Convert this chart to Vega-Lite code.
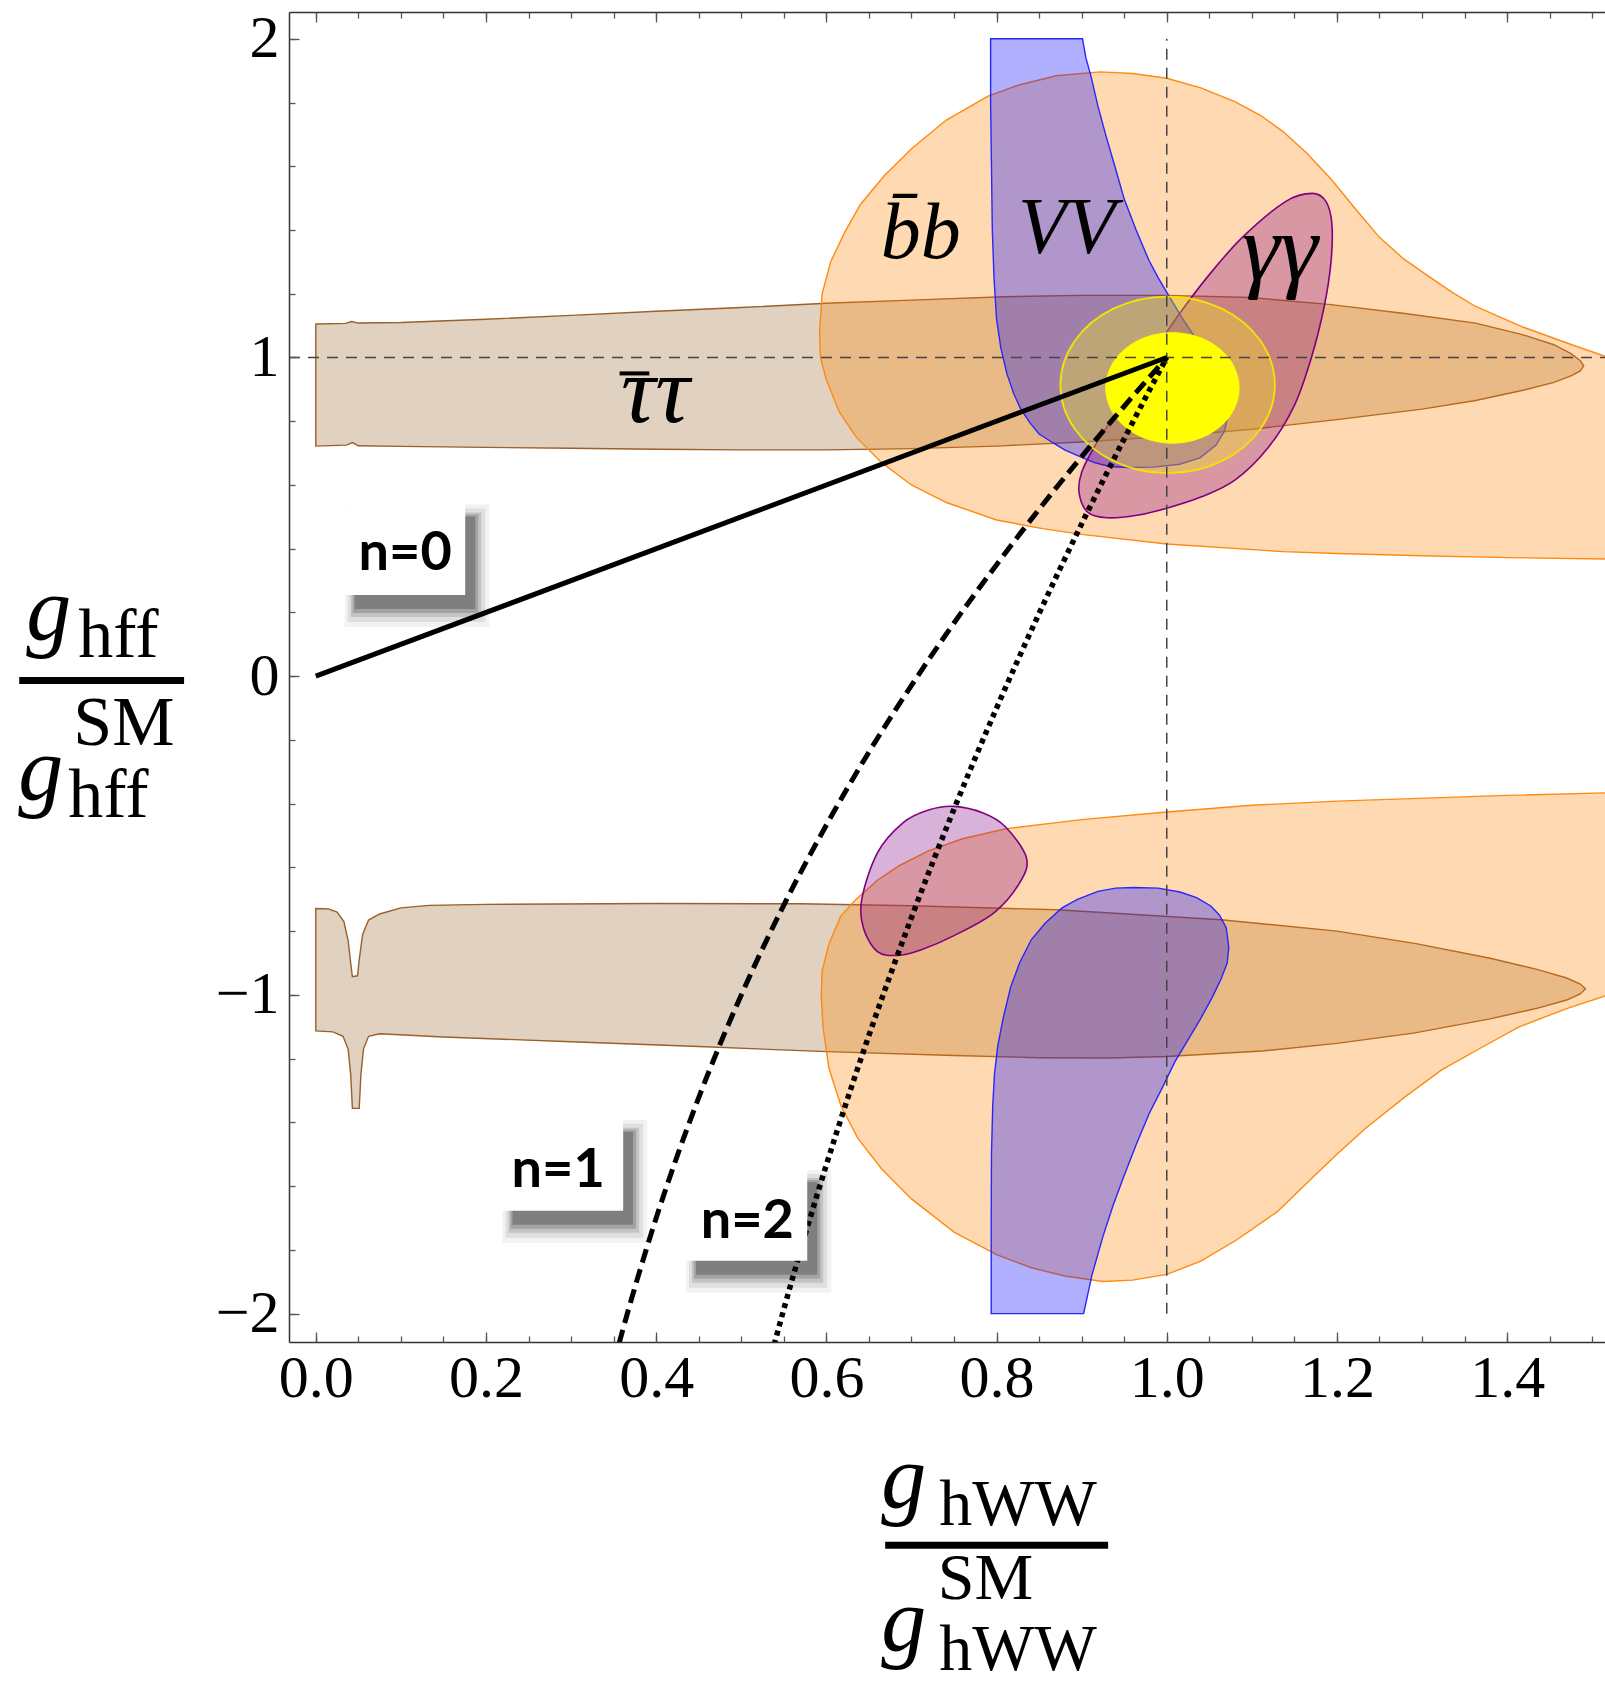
{
"$schema":"https://vega.github.io/schema/vega-lite/v6.json",
"width":1316,"height":1330,
"autosize":{"type":"none"},
"padding":{"left":289,"top":12,"right":0,"bottom":342},
"background":"white",
"config":{"view":{"stroke":null}},
"resolve":{"axis":{"x":"independent","y":"independent"}},
"datasets":{
"shp":[
{"s":"tu","i":0,"x":0,"y":1.105},{"s":"tu","i":1,"x":0.035,"y":1.107},{"s":"tu","i":2,"x":0.042,"y":1.113},{"s":"tu","i":3,"x":0.05,"y":1.108},{"s":"tu","i":4,"x":0.1,"y":1.11},{"s":"tu","i":5,"x":0.2,"y":1.12},{"s":"tu","i":6,"x":0.3,"y":1.132},{"s":"tu","i":7,"x":0.4,"y":1.145},{"s":"tu","i":8,"x":0.5,"y":1.157},{"s":"tu","i":9,"x":0.6,"y":1.17},{"s":"tu","i":10,"x":0.7,"y":1.18},{"s":"tu","i":11,"x":0.8,"y":1.19},{"s":"tu","i":12,"x":0.9,"y":1.195},{"s":"tu","i":13,"x":1.0,"y":1.195},{"s":"tu","i":14,"x":1.1,"y":1.188},{"s":"tu","i":15,"x":1.193,"y":1.166},{"s":"tu","i":16,"x":1.28,"y":1.138},{"s":"tu","i":17,"x":1.363,"y":1.108},{"s":"tu","i":18,"x":1.42,"y":1.07},{"s":"tu","i":19,"x":1.455,"y":1.04},{"s":"tu","i":20,"x":1.475,"y":1.012},{"s":"tu","i":21,"x":1.486,"y":0.99},{"s":"tu","i":22,"x":1.49,"y":0.974},{"s":"tu","i":23,"x":1.486,"y":0.958},{"s":"tu","i":24,"x":1.475,"y":0.942},{"s":"tu","i":25,"x":1.455,"y":0.922},{"s":"tu","i":26,"x":1.42,"y":0.898},{"s":"tu","i":27,"x":1.363,"y":0.865},{"s":"tu","i":28,"x":1.3,"y":0.838},{"s":"tu","i":29,"x":1.2,"y":0.805},{"s":"tu","i":30,"x":1.1,"y":0.775},{"s":"tu","i":31,"x":1.0,"y":0.752},{"s":"tu","i":32,"x":0.9,"y":0.735},{"s":"tu","i":33,"x":0.8,"y":0.722},{"s":"tu","i":34,"x":0.7,"y":0.714},{"s":"tu","i":35,"x":0.6,"y":0.71},{"s":"tu","i":36,"x":0.5,"y":0.71},{"s":"tu","i":37,"x":0.4,"y":0.712},{"s":"tu","i":38,"x":0.3,"y":0.715},{"s":"tu","i":39,"x":0.2,"y":0.718},{"s":"tu","i":40,"x":0.1,"y":0.721},{"s":"tu","i":41,"x":0.05,"y":0.723},{"s":"tu","i":42,"x":0.043,"y":0.733},{"s":"tu","i":43,"x":0.036,"y":0.725},{"s":"tu","i":44,"x":0,"y":0.722},
{"s":"tl","i":0,"x":0,"y":-0.729},{"s":"tl","i":1,"x":0.015,"y":-0.73},{"s":"tl","i":2,"x":0.025,"y":-0.74},{"s":"tl","i":3,"x":0.033,"y":-0.77},{"s":"tl","i":4,"x":0.038,"y":-0.83},{"s":"tl","i":5,"x":0.041,"y":-0.9},{"s":"tl","i":6,"x":0.043,"y":-0.943},{"s":"tl","i":7,"x":0.049,"y":-0.94},{"s":"tl","i":8,"x":0.051,"y":-0.89},{"s":"tl","i":9,"x":0.055,"y":-0.81},{"s":"tl","i":10,"x":0.062,"y":-0.765},{"s":"tl","i":11,"x":0.075,"y":-0.746},{"s":"tl","i":12,"x":0.1,"y":-0.727},{"s":"tl","i":13,"x":0.133,"y":-0.719},{"s":"tl","i":14,"x":0.2,"y":-0.716},{"s":"tl","i":15,"x":0.4,"y":-0.713},{"s":"tl","i":16,"x":0.569,"y":-0.714},{"s":"tl","i":17,"x":0.7,"y":-0.72},{"s":"tl","i":18,"x":0.871,"y":-0.733},{"s":"tl","i":19,"x":1.064,"y":-0.764},{"s":"tl","i":20,"x":1.2,"y":-0.8},{"s":"tl","i":21,"x":1.293,"y":-0.839},{"s":"tl","i":22,"x":1.38,"y":-0.885},{"s":"tl","i":23,"x":1.435,"y":-0.92},{"s":"tl","i":24,"x":1.47,"y":-0.947},{"s":"tl","i":25,"x":1.486,"y":-0.966},{"s":"tl","i":26,"x":1.492,"y":-0.981},{"s":"tl","i":27,"x":1.486,"y":-0.997},{"s":"tl","i":28,"x":1.47,"y":-1.016},{"s":"tl","i":29,"x":1.435,"y":-1.042},{"s":"tl","i":30,"x":1.38,"y":-1.075},{"s":"tl","i":31,"x":1.29,"y":-1.12},{"s":"tl","i":32,"x":1.2,"y":-1.152},{"s":"tl","i":33,"x":1.112,"y":-1.176},{"s":"tl","i":34,"x":1.0,"y":-1.193},{"s":"tl","i":35,"x":0.931,"y":-1.198},{"s":"tl","i":36,"x":0.85,"y":-1.197},{"s":"tl","i":37,"x":0.75,"y":-1.19},{"s":"tl","i":38,"x":0.6,"y":-1.178},{"s":"tl","i":39,"x":0.45,"y":-1.162},{"s":"tl","i":40,"x":0.3,"y":-1.147},{"s":"tl","i":41,"x":0.15,"y":-1.132},{"s":"tl","i":42,"x":0.075,"y":-1.122},{"s":"tl","i":43,"x":0.062,"y":-1.13},{"s":"tl","i":44,"x":0.056,"y":-1.17},{"s":"tl","i":45,"x":0.053,"y":-1.25},{"s":"tl","i":46,"x":0.051,"y":-1.356},{"s":"tl","i":47,"x":0.043,"y":-1.356},{"s":"tl","i":48,"x":0.041,"y":-1.25},{"s":"tl","i":49,"x":0.038,"y":-1.17},{"s":"tl","i":50,"x":0.032,"y":-1.13},{"s":"tl","i":51,"x":0.02,"y":-1.116},{"s":"tl","i":52,"x":0,"y":-1.113},
{"s":"bu","i":0,"x":0.6,"y":0.93},{"s":"bu","i":1,"x":0.593,"y":1.0},{"s":"bu","i":2,"x":0.592,"y":1.08},{"s":"bu","i":3,"x":0.595,"y":1.2},{"s":"bu","i":4,"x":0.605,"y":1.3},{"s":"bu","i":5,"x":0.621,"y":1.39},{"s":"bu","i":6,"x":0.64,"y":1.48},{"s":"bu","i":7,"x":0.668,"y":1.57},{"s":"bu","i":8,"x":0.7,"y":1.655},{"s":"bu","i":9,"x":0.741,"y":1.745},{"s":"bu","i":10,"x":0.79,"y":1.82},{"s":"bu","i":11,"x":0.826,"y":1.855},{"s":"bu","i":12,"x":0.87,"y":1.884},{"s":"bu","i":13,"x":0.922,"y":1.896},{"s":"bu","i":14,"x":0.96,"y":1.891},{"s":"bu","i":15,"x":1.0,"y":1.876},{"s":"bu","i":16,"x":1.04,"y":1.846},{"s":"bu","i":17,"x":1.08,"y":1.803},{"s":"bu","i":18,"x":1.11,"y":1.76},{"s":"bu","i":19,"x":1.137,"y":1.708},{"s":"bu","i":20,"x":1.165,"y":1.64},{"s":"bu","i":21,"x":1.194,"y":1.557},{"s":"bu","i":22,"x":1.222,"y":1.465},{"s":"bu","i":23,"x":1.25,"y":1.377},{"s":"bu","i":24,"x":1.278,"y":1.31},{"s":"bu","i":25,"x":1.307,"y":1.256},{"s":"bu","i":26,"x":1.335,"y":1.205},{"s":"bu","i":27,"x":1.363,"y":1.16},{"s":"bu","i":28,"x":1.42,"y":1.094},{"s":"bu","i":29,"x":1.476,"y":1.04},{"s":"bu","i":30,"x":1.53,"y":0.99},{"s":"bu","i":31,"x":1.53,"y":0.367},{"s":"bu","i":32,"x":1.4,"y":0.372},{"s":"bu","i":33,"x":1.3,"y":0.378},{"s":"bu","i":34,"x":1.2,"y":0.385},{"s":"bu","i":35,"x":1.137,"y":0.391},{"s":"bu","i":36,"x":1.0,"y":0.415},{"s":"bu","i":37,"x":0.9,"y":0.445},{"s":"bu","i":38,"x":0.854,"y":0.463},{"s":"bu","i":39,"x":0.8,"y":0.49},{"s":"bu","i":40,"x":0.741,"y":0.545},{"s":"bu","i":41,"x":0.7,"y":0.6},{"s":"bu","i":42,"x":0.665,"y":0.67},{"s":"bu","i":43,"x":0.635,"y":0.75},{"s":"bu","i":44,"x":0.615,"y":0.83},
{"s":"bl","i":0,"x":1.53,"y":-0.365},{"s":"bl","i":1,"x":1.4,"y":-0.374},{"s":"bl","i":2,"x":1.2,"y":-0.392},{"s":"bl","i":3,"x":1.1,"y":-0.405},{"s":"bl","i":4,"x":1.0,"y":-0.426},{"s":"bl","i":5,"x":0.9,"y":-0.45},{"s":"bl","i":6,"x":0.81,"y":-0.479},{"s":"bl","i":7,"x":0.76,"y":-0.51},{"s":"bl","i":8,"x":0.72,"y":-0.548},{"s":"bl","i":9,"x":0.685,"y":-0.595},{"s":"bl","i":10,"x":0.66,"y":-0.64},{"s":"bl","i":11,"x":0.635,"y":-0.7},{"s":"bl","i":12,"x":0.617,"y":-0.752},{"s":"bl","i":13,"x":0.603,"y":-0.84},{"s":"bl","i":14,"x":0.595,"y":-0.925},{"s":"bl","i":15,"x":0.594,"y":-1.0},{"s":"bl","i":16,"x":0.596,"y":-1.1},{"s":"bl","i":17,"x":0.603,"y":-1.23},{"s":"bl","i":18,"x":0.617,"y":-1.347},{"s":"bl","i":19,"x":0.637,"y":-1.45},{"s":"bl","i":20,"x":0.665,"y":-1.546},{"s":"bl","i":21,"x":0.7,"y":-1.64},{"s":"bl","i":22,"x":0.75,"y":-1.744},{"s":"bl","i":23,"x":0.8,"y":-1.815},{"s":"bl","i":24,"x":0.841,"y":-1.856},{"s":"bl","i":25,"x":0.88,"y":-1.882},{"s":"bl","i":26,"x":0.925,"y":-1.899},{"s":"bl","i":27,"x":0.96,"y":-1.895},{"s":"bl","i":28,"x":1.0,"y":-1.877},{"s":"bl","i":29,"x":1.04,"y":-1.835},{"s":"bl","i":30,"x":1.082,"y":-1.769},{"s":"bl","i":31,"x":1.13,"y":-1.68},{"s":"bl","i":32,"x":1.172,"y":-1.571},{"s":"bl","i":33,"x":1.2,"y":-1.5},{"s":"bl","i":34,"x":1.233,"y":-1.42},{"s":"bl","i":35,"x":1.28,"y":-1.32},{"s":"bl","i":36,"x":1.323,"y":-1.235},{"s":"bl","i":37,"x":1.37,"y":-1.165},{"s":"bl","i":38,"x":1.414,"y":-1.1},{"s":"bl","i":39,"x":1.47,"y":-1.043},{"s":"bl","i":40,"x":1.53,"y":-0.99},
{"s":"vu","i":0,"x":0.793,"y":2.0},{"s":"vu","i":1,"x":0.901,"y":2.0},{"s":"vu","i":2,"x":0.905,"y":1.94},{"s":"vu","i":3,"x":0.911,"y":1.882},{"s":"vu","i":4,"x":0.919,"y":1.79},{"s":"vu","i":5,"x":0.928,"y":1.701},{"s":"vu","i":6,"x":0.939,"y":1.6},{"s":"vu","i":7,"x":0.95,"y":1.497},{"s":"vu","i":8,"x":0.964,"y":1.4},{"s":"vu","i":9,"x":0.979,"y":1.305},{"s":"vu","i":10,"x":0.99,"y":1.25},{"s":"vu","i":11,"x":1.002,"y":1.196},{"s":"vu","i":12,"x":1.018,"y":1.124},{"s":"vu","i":13,"x":1.033,"y":1.064},{"s":"vu","i":14,"x":1.048,"y":1.0},{"s":"vu","i":15,"x":1.06,"y":0.94},{"s":"vu","i":16,"x":1.068,"y":0.88},{"s":"vu","i":17,"x":1.072,"y":0.82},{"s":"vu","i":18,"x":1.068,"y":0.77},{"s":"vu","i":19,"x":1.058,"y":0.725},{"s":"vu","i":20,"x":1.039,"y":0.685},{"s":"vu","i":21,"x":1.015,"y":0.665},{"s":"vu","i":22,"x":0.985,"y":0.656},{"s":"vu","i":23,"x":0.955,"y":0.655},{"s":"vu","i":24,"x":0.933,"y":0.658},{"s":"vu","i":25,"x":0.915,"y":0.67},{"s":"vu","i":26,"x":0.898,"y":0.689},{"s":"vu","i":27,"x":0.88,"y":0.71},{"s":"vu","i":28,"x":0.867,"y":0.731},{"s":"vu","i":29,"x":0.85,"y":0.76},{"s":"vu","i":30,"x":0.8395,"y":0.794},{"s":"vu","i":31,"x":0.828,"y":0.84},{"s":"vu","i":32,"x":0.82,"y":0.888},{"s":"vu","i":33,"x":0.812,"y":0.95},{"s":"vu","i":34,"x":0.805,"y":1.03},{"s":"vu","i":35,"x":0.8,"y":1.12},{"s":"vu","i":36,"x":0.797,"y":1.25},{"s":"vu","i":37,"x":0.795,"y":1.4},{"s":"vu","i":38,"x":0.794,"y":1.6},{"s":"vu","i":39,"x":0.793,"y":1.8},
{"s":"vl","i":0,"x":0.7937,"y":-2.0},{"s":"vl","i":1,"x":0.9023,"y":-2.0},{"s":"vl","i":2,"x":0.912,"y":-1.88},{"s":"vl","i":3,"x":0.9252,"y":-1.756},{"s":"vl","i":4,"x":0.937,"y":-1.66},{"s":"vl","i":5,"x":0.9493,"y":-1.571},{"s":"vl","i":6,"x":0.964,"y":-1.47},{"s":"vl","i":7,"x":0.9794,"y":-1.372},{"s":"vl","i":8,"x":0.995,"y":-1.29},{"s":"vl","i":9,"x":1.0095,"y":-1.21},{"s":"vl","i":10,"x":1.0397,"y":-1.075},{"s":"vl","i":11,"x":1.053,"y":-1.01},{"s":"vl","i":12,"x":1.0638,"y":-0.95},{"s":"vl","i":13,"x":1.071,"y":-0.9},{"s":"vl","i":14,"x":1.0729,"y":-0.851},{"s":"vl","i":15,"x":1.0699,"y":-0.789},{"s":"vl","i":16,"x":1.062,"y":-0.75},{"s":"vl","i":17,"x":1.0518,"y":-0.721},{"s":"vl","i":18,"x":1.035,"y":-0.695},{"s":"vl","i":19,"x":1.0156,"y":-0.677},{"s":"vl","i":20,"x":0.99,"y":-0.665},{"s":"vl","i":21,"x":0.9613,"y":-0.663},{"s":"vl","i":22,"x":0.94,"y":-0.665},{"s":"vl","i":23,"x":0.9191,"y":-0.675},{"s":"vl","i":24,"x":0.895,"y":-0.7},{"s":"vl","i":25,"x":0.8769,"y":-0.727},{"s":"vl","i":26,"x":0.857,"y":-0.775},{"s":"vl","i":27,"x":0.8407,"y":-0.827},{"s":"vl","i":28,"x":0.827,"y":-0.9},{"s":"vl","i":29,"x":0.8166,"y":-0.975},{"s":"vl","i":30,"x":0.808,"y":-1.07},{"s":"vl","i":31,"x":0.8014,"y":-1.16},{"s":"vl","i":32,"x":0.7975,"y":-1.25},{"s":"vl","i":33,"x":0.7955,"y":-1.347},{"s":"vl","i":34,"x":0.794,"y":-1.5},{"s":"vl","i":35,"x":0.7937,"y":-1.7},{"s":"vl","i":36,"x":0.7937,"y":-1.85},
{"s":"gu","i":0,"x":1.171,"y":1.515},{"s":"gu","i":1,"x":1.14,"y":1.49},{"s":"gu","i":2,"x":1.09,"y":1.38},{"s":"gu","i":3,"x":1.05,"y":1.26},{"s":"gu","i":4,"x":1.013,"y":1.13},{"s":"gu","i":5,"x":0.975,"y":0.98},{"s":"gu","i":6,"x":0.941,"y":0.83},{"s":"gu","i":7,"x":0.915,"y":0.72},{"s":"gu","i":8,"x":0.9,"y":0.64},{"s":"gu","i":9,"x":0.897,"y":0.575},{"s":"gu","i":10,"x":0.907,"y":0.515},{"s":"gu","i":11,"x":0.93,"y":0.497},{"s":"gu","i":12,"x":0.965,"y":0.505},{"s":"gu","i":13,"x":1.0,"y":0.527},{"s":"gu","i":14,"x":1.04,"y":0.562},{"s":"gu","i":15,"x":1.08,"y":0.615},{"s":"gu","i":16,"x":1.12,"y":0.72},{"s":"gu","i":17,"x":1.15,"y":0.85},{"s":"gu","i":18,"x":1.17,"y":1.0},{"s":"gu","i":19,"x":1.185,"y":1.16},{"s":"gu","i":20,"x":1.193,"y":1.3},{"s":"gu","i":21,"x":1.194,"y":1.42},{"s":"gu","i":22,"x":1.187,"y":1.49},
{"s":"gl","i":0,"x":0.75,"y":-0.4085},{"s":"gl","i":1,"x":0.785,"y":-0.43},{"s":"gl","i":2,"x":0.8106,"y":-0.473},{"s":"gl","i":3,"x":0.8347,"y":-0.566},{"s":"gl","i":4,"x":0.829,"y":-0.64},{"s":"gl","i":5,"x":0.798,"y":-0.74},{"s":"gl","i":6,"x":0.75,"y":-0.814},{"s":"gl","i":7,"x":0.71,"y":-0.86},{"s":"gl","i":8,"x":0.684,"y":-0.876},{"s":"gl","i":9,"x":0.66,"y":-0.864},{"s":"gl","i":10,"x":0.6435,"y":-0.79},{"s":"gl","i":11,"x":0.6416,"y":-0.7},{"s":"gl","i":12,"x":0.66,"y":-0.554},{"s":"gl","i":13,"x":0.69,"y":-0.46},{"s":"gl","i":14,"x":0.72,"y":-0.42},
{"s":"yo","i":0,"x":1.127,"y":0.914},{"s":"yo","i":1,"x":1.11,"y":1.0525},{"s":"yo","i":2,"x":1.064,"y":1.154},{"s":"yo","i":3,"x":1.001,"y":1.191},{"s":"yo","i":4,"x":0.938,"y":1.154},{"s":"yo","i":5,"x":0.892,"y":1.0525},{"s":"yo","i":6,"x":0.875,"y":0.914},{"s":"yo","i":7,"x":0.892,"y":0.7755},{"s":"yo","i":8,"x":0.938,"y":0.674},{"s":"yo","i":9,"x":1.001,"y":0.637},{"s":"yo","i":10,"x":1.064,"y":0.674},{"s":"yo","i":11,"x":1.11,"y":0.7755},
{"s":"yi","i":0,"x":1.085,"y":0.9045},{"s":"yi","i":1,"x":1.0746,"y":0.9913},{"s":"yi","i":2,"x":1.0459,"y":1.0548},{"s":"yi","i":3,"x":1.0067,"y":1.078},{"s":"yi","i":4,"x":0.9675,"y":1.0548},{"s":"yi","i":5,"x":0.9388,"y":0.9913},{"s":"yi","i":6,"x":0.9283,"y":0.9045},{"s":"yi","i":7,"x":0.9388,"y":0.8178},{"s":"yi","i":8,"x":0.9675,"y":0.7543},{"s":"yi","i":9,"x":1.0067,"y":0.731},{"s":"yi","i":10,"x":1.0459,"y":0.7543},{"s":"yi","i":11,"x":1.0746,"y":0.8178}
],
"curves":[
{"n":"n0","a":0,"g":0},{"n":"n0","a":1,"g":1},
{"n":"n1","a":0.35,"g":-2.157},{"n":"n1","a":0.36,"g":-2.058},{"n":"n1","a":0.38,"g":-1.872},{"n":"n1","a":0.4,"g":-1.7},{"n":"n1","a":0.425,"g":-1.503},{"n":"n1","a":0.45,"g":-1.322},{"n":"n1","a":0.475,"g":-1.155},{"n":"n1","a":0.5,"g":-1.0},{"n":"n1","a":0.55,"g":-0.718},{"n":"n1","a":0.6,"g":-0.467},{"n":"n1","a":0.65,"g":-0.238},{"n":"n1","a":0.7,"g":-0.029},{"n":"n1","a":0.75,"g":0.167},{"n":"n1","a":0.8,"g":0.35},{"n":"n1","a":0.85,"g":0.524},{"n":"n1","a":0.9,"g":0.689},{"n":"n1","a":0.95,"g":0.847},{"n":"n1","a":1.0,"g":1.0},
{"n":"n2","a":0.53,"g":-2.184},{"n":"n2","a":0.55,"g":-1.986},{"n":"n2","a":0.575,"g":-1.753},{"n":"n2","a":0.6,"g":-1.533},{"n":"n2","a":0.625,"g":-1.325},{"n":"n2","a":0.65,"g":-1.127},{"n":"n2","a":0.7,"g":-0.757},{"n":"n2","a":0.75,"g":-0.417},{"n":"n2","a":0.8,"g":-0.1},{"n":"n2","a":0.85,"g":0.197},{"n":"n2","a":0.9,"g":0.478},{"n":"n2","a":0.95,"g":0.745},{"n":"n2","a":1.0,"g":1.0}
],
"ref":[{"x":1,"x2":1,"y":-2,"y2":2},{"x":-0.0315,"x2":1.515,"y":1,"y2":1}],
"boxes":[
{"t":"n=0","x1":0.034,"x2":0.1756,"y1":0.539,"y2":0.255,"tx":0.105,"ty":0.332},
{"t":"n=1","x1":0.2194,"x2":0.3612,"y1":-1.392,"y2":-1.677,"tx":0.2848,"ty":-1.6015},
{"t":"n=2","x1":0.435,"x2":0.5775,"y1":-1.549,"y2":-1.834,"tx":0.507,"ty":-1.7634}
],
"regions":[
{"t":"b̄b","x":0.711,"y":1.3125},
{"t":"VV","x":0.8825,"y":1.3285},
{"t":"γγ","x":1.133,"y":1.2435},
{"t":"ττ","x":0.399,"y":0.799}
],
"overbars":[{"x1":0.357,"x2":0.392,"y":0.95}],
"titles":[
{"t":"g","x":-0.3403,"y":0.114,"k":"g"},
{"t":"hff","x":-0.2792,"y":0.0606,"k":"s"},
{"t":"SM","x":-0.2851,"y":-0.2156,"k":"s"},
{"t":"g","x":-0.3497,"y":-0.388,"k":"g"},
{"t":"hff","x":-0.291,"y":-0.4415,"k":"s"},
{"t":"g","x":0.6645,"y":-2.61,"k":"g"},
{"t":"hWW","x":0.7325,"y":-2.663,"k":"x"},
{"t":"SM","x":0.731,"y":-2.895,"k":"x"},
{"t":"g","x":0.6645,"y":-3.06,"k":"g"},
{"t":"hWW","x":0.7325,"y":-3.118,"k":"x"}
],
"bars":[{"x1":-0.3485,"x2":-0.1548,"y":-0.0132},{"x1":0.6691,"x2":0.9311,"y":-2.727}]
},
"layer":[
{"data":{"name":"shp"},"transform":[{"filter":"datum.s==='tu'"}],
 "mark":{"type":"line","interpolate":"linear-closed","fill":"#996633","fillOpacity":0.3,"stroke":"#9a5f2a","strokeWidth":1.4,"clip":true},
 "encoding":{
  "x":{"field":"x","type":"quantitative","scale":{"domain":[-0.0315,1.515],"nice":false,"zero":false},
   "axis":{"orient":"bottom","values":[0,0.2,0.4,0.6,0.8,1,1.2,1.4],"format":".1f","title":null,"grid":false,"tickSize":-10,"labelPadding":17,"labelFont":"Liberation Serif","labelFontSize":60,"labelColor":"#000","labelFlush":false,"labelOverlap":false,"domainColor":"#333","domainWidth":1.5,"tickColor":"#555","tickWidth":1.3,"zindex":1}},
  "y":{"field":"y","type":"quantitative","scale":{"domain":[-2.089,2.084],"nice":false,"zero":false},
   "axis":{"orient":"left","values":[-2,-1,0,1,2],"format":"d","title":null,"grid":false,"tickSize":-10,"labelPadding":20,"labelFont":"Liberation Serif","labelFontSize":60,"labelColor":"#000","labelAlign":"right","labelBaseline":"middle","labelFlush":false,"labelOverlap":false,"domainColor":"#333","domainWidth":1.5,"tickColor":"#555","tickWidth":1.3,"zindex":1}},
  "order":{"field":"i","type":"quantitative"}}},
{"data":{"name":"shp"},"transform":[{"filter":"datum.s==='tl'"}],
 "mark":{"type":"line","interpolate":"linear-closed","fill":"#996633","fillOpacity":0.3,"stroke":"#9a5f2a","strokeWidth":1.4,"clip":true},
 "encoding":{
  "x":{"field":"x","type":"quantitative","scale":{"domain":[-0.0315,1.515],"nice":false,"zero":false},
   "axis":{"orient":"bottom","values":[0,0.05,0.1,0.15,0.2,0.25,0.3,0.35,0.4,0.45,0.5,0.55,0.6,0.65,0.7,0.75,0.8,0.85,0.9,0.95,1,1.05,1.1,1.15,1.2,1.25,1.3,1.35,1.4,1.45,1.5],"labels":false,"domain":false,"title":null,"grid":false,"tickSize":-6,"tickColor":"#555","tickWidth":1.3,"zindex":1}},
  "y":{"field":"y","type":"quantitative","scale":{"domain":[-2.089,2.084],"nice":false,"zero":false},
   "axis":{"orient":"left","values":[-2,-1.8,-1.6,-1.4,-1.2,-1,-0.8,-0.6,-0.4,-0.2,0,0.2,0.4,0.6,0.8,1,1.2,1.4,1.6,1.8,2],"labels":false,"domain":false,"title":null,"grid":false,"tickSize":-6,"tickColor":"#555","tickWidth":1.3,"zindex":1}},
  "order":{"field":"i","type":"quantitative"}}},
{"data":{"name":"shp"},"transform":[{"filter":"datum.s==='bu'"}],
 "mark":{"type":"line","interpolate":"linear-closed","fill":"#ff8000","fillOpacity":0.3,"stroke":"#ff8a10","strokeWidth":1.4,"clip":true},
 "encoding":{
  "x":{"field":"x","type":"quantitative","scale":{"domain":[-0.0315,1.515],"nice":false,"zero":false},
   "axis":{"orient":"top","values":[0,0.2,0.4,0.6,0.8,1,1.2,1.4],"labels":false,"title":null,"grid":false,"tickSize":-10,"domainColor":"#333","domainWidth":1.5,"tickColor":"#555","tickWidth":1.3,"zindex":1}},
  "y":{"field":"y","type":"quantitative","scale":{"domain":[-2.089,2.084],"nice":false,"zero":false},"axis":null},
  "order":{"field":"i","type":"quantitative"}}},
{"data":{"name":"shp"},"transform":[{"filter":"datum.s==='bl'"}],
 "mark":{"type":"line","interpolate":"linear-closed","fill":"#ff8000","fillOpacity":0.3,"stroke":"#ff8a10","strokeWidth":1.4,"clip":true},
 "encoding":{
  "x":{"field":"x","type":"quantitative","scale":{"domain":[-0.0315,1.515],"nice":false,"zero":false},
   "axis":{"orient":"top","values":[0,0.05,0.1,0.15,0.2,0.25,0.3,0.35,0.4,0.45,0.5,0.55,0.6,0.65,0.7,0.75,0.8,0.85,0.9,0.95,1,1.05,1.1,1.15,1.2,1.25,1.3,1.35,1.4,1.45,1.5],"labels":false,"domain":false,"title":null,"grid":false,"tickSize":-6,"tickColor":"#555","tickWidth":1.3,"zindex":1}},
  "y":{"field":"y","type":"quantitative","scale":{"domain":[-2.089,2.084],"nice":false,"zero":false},"axis":null},
  "order":{"field":"i","type":"quantitative"}}},
{"data":{"name":"shp"},"transform":[{"filter":"datum.s==='vu' || datum.s==='vl'"}],
 "mark":{"type":"line","interpolate":"linear-closed","fill":"#0000ff","fillOpacity":0.31,"stroke":"#2626ff","strokeWidth":1.4,"clip":true},
 "encoding":{
  "x":{"field":"x","type":"quantitative","scale":{"domain":[-0.0315,1.515],"nice":false,"zero":false},"axis":null},
  "y":{"field":"y","type":"quantitative","scale":{"domain":[-2.089,2.084],"nice":false,"zero":false},"axis":null},
  "detail":{"field":"s"},
  "order":{"field":"i","type":"quantitative"}}},
{"data":{"name":"shp"},"transform":[{"filter":"datum.s==='gu' || datum.s==='gl'"}],
 "mark":{"type":"line","interpolate":"cardinal-closed","fill":"#800080","fillOpacity":0.3,"stroke":"#800080","strokeWidth":1.6,"clip":true},
 "encoding":{
  "x":{"field":"x","type":"quantitative","scale":{"domain":[-0.0315,1.515],"nice":false,"zero":false},"axis":null},
  "y":{"field":"y","type":"quantitative","scale":{"domain":[-2.089,2.084],"nice":false,"zero":false},"axis":null},
  "detail":{"field":"s"},
  "order":{"field":"i","type":"quantitative"}}},
{"data":{"name":"shp"},"transform":[{"filter":"datum.s==='yo'"}],
 "mark":{"type":"line","interpolate":"cardinal-closed","fill":"#ffff00","fillOpacity":0.3,"stroke":"#f2e400","strokeWidth":1.8,"clip":true},
 "encoding":{
  "x":{"field":"x","type":"quantitative","scale":{"domain":[-0.0315,1.515],"nice":false,"zero":false},"axis":null},
  "y":{"field":"y","type":"quantitative","scale":{"domain":[-2.089,2.084],"nice":false,"zero":false},"axis":null},
  "order":{"field":"i","type":"quantitative"}}},
{"data":{"name":"shp"},"transform":[{"filter":"datum.s==='yi'"}],
 "mark":{"type":"line","interpolate":"cardinal-closed","fill":"#ffff00","fillOpacity":1,"stroke":"#ffff00","strokeWidth":1,"clip":true},
 "encoding":{
  "x":{"field":"x","type":"quantitative","scale":{"domain":[-0.0315,1.515],"nice":false,"zero":false},"axis":null},
  "y":{"field":"y","type":"quantitative","scale":{"domain":[-2.089,2.084],"nice":false,"zero":false},"axis":null},
  "order":{"field":"i","type":"quantitative"}}},
{"data":{"name":"ref"},
 "mark":{"type":"rule","color":"#444","strokeWidth":1.5,"strokeDash":[11,8]},
 "encoding":{
  "x":{"field":"x","type":"quantitative","scale":{"domain":[-0.0315,1.515],"nice":false,"zero":false},"axis":null},
  "x2":{"field":"x2"},
  "y":{"field":"y","type":"quantitative","scale":{"domain":[-2.089,2.084],"nice":false,"zero":false},"axis":null},
  "y2":{"field":"y2"}}},
{"data":{"name":"curves"},"transform":[{"filter":"datum.n==='n0'"}],
 "mark":{"type":"line","color":"#000","strokeWidth":5,"clip":true},
 "encoding":{
  "x":{"field":"a","type":"quantitative","scale":{"domain":[-0.0315,1.515],"nice":false,"zero":false},"axis":null},
  "y":{"field":"g","type":"quantitative","scale":{"domain":[-2.089,2.084],"nice":false,"zero":false},"axis":null}}},
{"data":{"name":"curves"},"transform":[{"filter":"datum.n==='n1'"}],
 "mark":{"type":"line","color":"#000","strokeWidth":5,"strokeDash":[14,7],"interpolate":"monotone","clip":true},
 "encoding":{
  "x":{"field":"a","type":"quantitative","scale":{"domain":[-0.0315,1.515],"nice":false,"zero":false},"axis":null},
  "y":{"field":"g","type":"quantitative","scale":{"domain":[-2.089,2.084],"nice":false,"zero":false},"axis":null}}},
{"data":{"name":"curves"},"transform":[{"filter":"datum.n==='n2'"}],
 "mark":{"type":"line","color":"#000","strokeWidth":5.5,"strokeDash":[5,4.5],"interpolate":"monotone","clip":true},
 "encoding":{
  "x":{"field":"a","type":"quantitative","scale":{"domain":[-0.0315,1.515],"nice":false,"zero":false},"axis":null},
  "y":{"field":"g","type":"quantitative","scale":{"domain":[-2.089,2.084],"nice":false,"zero":false},"axis":null}}},
{"data":{"name":"boxes"},
 "mark":{"type":"rect","color":"#000","opacity":0.05,"xOffset":0,"x2Offset":24,"yOffset":0,"y2Offset":32},
 "encoding":{
  "x":{"field":"x1","type":"quantitative","scale":{"domain":[-0.0315,1.515],"nice":false,"zero":false},"axis":null},
  "x2":{"field":"x2"},
  "y":{"field":"y1","type":"quantitative","scale":{"domain":[-2.089,2.084],"nice":false,"zero":false},"axis":null},
  "y2":{"field":"y2"}}},
{"data":{"name":"boxes"},
 "mark":{"type":"rect","color":"#000","opacity":0.08,"xOffset":3,"x2Offset":20,"yOffset":4,"y2Offset":27},
 "encoding":{
  "x":{"field":"x1","type":"quantitative","scale":{"domain":[-0.0315,1.515],"nice":false,"zero":false},"axis":null},
  "x2":{"field":"x2"},
  "y":{"field":"y1","type":"quantitative","scale":{"domain":[-2.089,2.084],"nice":false,"zero":false},"axis":null},
  "y2":{"field":"y2"}}},
{"data":{"name":"boxes"},
 "mark":{"type":"rect","color":"#000","opacity":0.12,"xOffset":6,"x2Offset":16,"yOffset":8,"y2Offset":22},
 "encoding":{
  "x":{"field":"x1","type":"quantitative","scale":{"domain":[-0.0315,1.515],"nice":false,"zero":false},"axis":null},
  "x2":{"field":"x2"},
  "y":{"field":"y1","type":"quantitative","scale":{"domain":[-2.089,2.084],"nice":false,"zero":false},"axis":null},
  "y2":{"field":"y2"}}},
{"data":{"name":"boxes"},
 "mark":{"type":"rect","color":"#000","opacity":0.16,"xOffset":8,"x2Offset":13,"yOffset":10,"y2Offset":18},
 "encoding":{
  "x":{"field":"x1","type":"quantitative","scale":{"domain":[-0.0315,1.515],"nice":false,"zero":false},"axis":null},
  "x2":{"field":"x2"},
  "y":{"field":"y1","type":"quantitative","scale":{"domain":[-2.089,2.084],"nice":false,"zero":false},"axis":null},
  "y2":{"field":"y2"}}},
{"data":{"name":"boxes"},
 "mark":{"type":"rect","color":"#000","opacity":0.22,"xOffset":10,"x2Offset":10,"yOffset":12,"y2Offset":14},
 "encoding":{
  "x":{"field":"x1","type":"quantitative","scale":{"domain":[-0.0315,1.515],"nice":false,"zero":false},"axis":null},
  "x2":{"field":"x2"},
  "y":{"field":"y1","type":"quantitative","scale":{"domain":[-2.089,2.084],"nice":false,"zero":false},"axis":null},
  "y2":{"field":"y2"}}},
{"data":{"name":"boxes"},
 "mark":{"type":"rect","color":"#ffffff","opacity":1},
 "encoding":{
  "x":{"field":"x1","type":"quantitative","scale":{"domain":[-0.0315,1.515],"nice":false,"zero":false},"axis":null},
  "x2":{"field":"x2"},
  "y":{"field":"y1","type":"quantitative","scale":{"domain":[-2.089,2.084],"nice":false,"zero":false},"axis":null},
  "y2":{"field":"y2"}}},
{"data":{"name":"boxes"},
 "mark":{"type":"text","font":"Lato","fontWeight":"bold","fontSize":54,"color":"#000","align":"center","baseline":"alphabetic"},
 "encoding":{
  "x":{"field":"tx","type":"quantitative","scale":{"domain":[-0.0315,1.515],"nice":false,"zero":false},"axis":null},
  "y":{"field":"ty","type":"quantitative","scale":{"domain":[-2.089,2.084],"nice":false,"zero":false},"axis":null},
  "text":{"field":"t"}}},
{"data":{"name":"regions"},
 "mark":{"type":"text","font":"Liberation Serif","fontStyle":"italic","color":"#000","align":"center","baseline":"alphabetic"},
 "encoding":{
  "x":{"field":"x","type":"quantitative","scale":{"domain":[-0.0315,1.515],"nice":false,"zero":false},"axis":null},
  "y":{"field":"y","type":"quantitative","scale":{"domain":[-2.089,2.084],"nice":false,"zero":false},"axis":null},
  "text":{"field":"t"},
  "size":{"condition":{"test":"datum.t==='γγ' || datum.t==='ττ'","value":96},"value":80}}},
{"data":{"name":"overbars"},
 "mark":{"type":"rule","color":"#000","strokeWidth":4},
 "encoding":{
  "x":{"field":"x1","type":"quantitative","scale":{"domain":[-0.0315,1.515],"nice":false,"zero":false},"axis":null},
  "x2":{"field":"x2"},
  "y":{"field":"y","type":"quantitative","scale":{"domain":[-2.089,2.084],"nice":false,"zero":false},"axis":null}}},
{"data":{"name":"titles"},"transform":[{"filter":"datum.k==='g'"}],
 "mark":{"type":"text","font":"Liberation Serif","fontStyle":"italic","fontSize":90,"color":"#000","align":"left","baseline":"alphabetic"},
 "encoding":{
  "x":{"field":"x","type":"quantitative","scale":{"domain":[-0.0315,1.515],"nice":false,"zero":false},"axis":null},
  "y":{"field":"y","type":"quantitative","scale":{"domain":[-2.089,2.084],"nice":false,"zero":false},"axis":null},
  "text":{"field":"t"}}},
{"data":{"name":"titles"},"transform":[{"filter":"datum.k==='s'"}],
 "mark":{"type":"text","font":"Liberation Serif","fontSize":70,"color":"#000","align":"left","baseline":"alphabetic"},
 "encoding":{
  "x":{"field":"x","type":"quantitative","scale":{"domain":[-0.0315,1.515],"nice":false,"zero":false},"axis":null},
  "y":{"field":"y","type":"quantitative","scale":{"domain":[-2.089,2.084],"nice":false,"zero":false},"axis":null},
  "text":{"field":"t"}}},
{"data":{"name":"titles"},"transform":[{"filter":"datum.k==='x'"}],
 "mark":{"type":"text","font":"Liberation Serif","fontSize":66,"color":"#000","align":"left","baseline":"alphabetic"},
 "encoding":{
  "x":{"field":"x","type":"quantitative","scale":{"domain":[-0.0315,1.515],"nice":false,"zero":false},"axis":null},
  "y":{"field":"y","type":"quantitative","scale":{"domain":[-2.089,2.084],"nice":false,"zero":false},"axis":null},
  "text":{"field":"t"}}},
{"data":{"name":"bars"},
 "mark":{"type":"rule","color":"#000","strokeWidth":7},
 "encoding":{
  "x":{"field":"x1","type":"quantitative","scale":{"domain":[-0.0315,1.515],"nice":false,"zero":false},"axis":null},
  "x2":{"field":"x2"},
  "y":{"field":"y","type":"quantitative","scale":{"domain":[-2.089,2.084],"nice":false,"zero":false},"axis":null}}}
]
}
